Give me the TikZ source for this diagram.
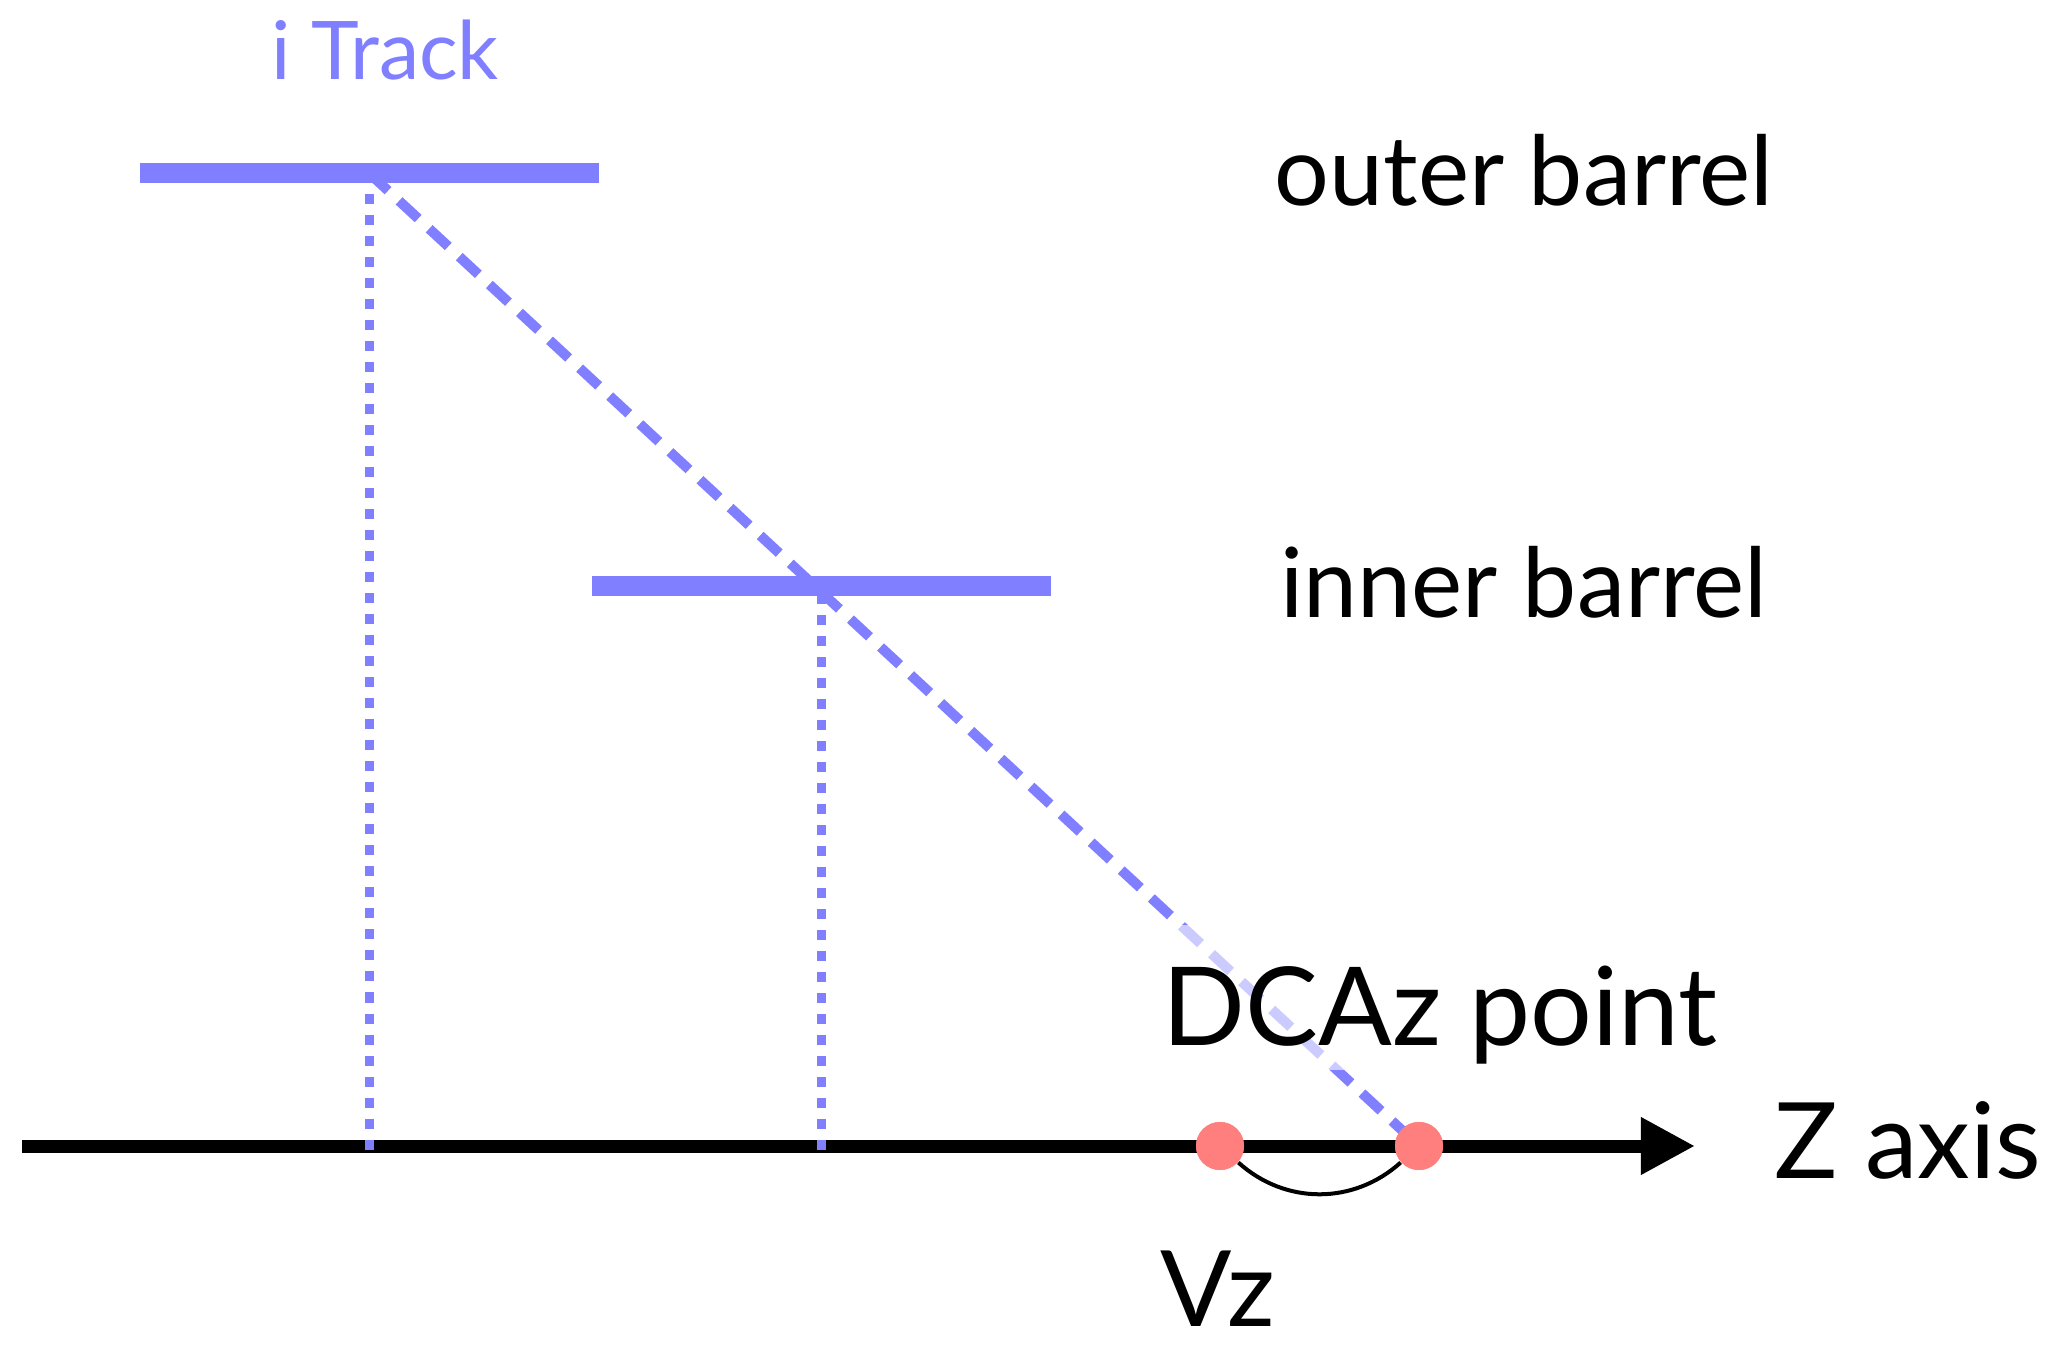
\documentclass[tikz,border=0pt]{standalone}
\usepackage{fontspec}
\setmainfont{Lato}
\usetikzlibrary{arrows.meta,positioning}
\definecolor{trackblue}{HTML}{7F7FFF}
\definecolor{dotred}{HTML}{FF7F7F}
\tikzset{
  barrel/.style  = {line width=0.2cm, trackblue},
  proj/.style    = {line width=0.09cm, trackblue, dash pattern=on 0.1cm off 0.11cm},
  track/.style   = {line width=0.1cm, trackblue, dash pattern=on 0.26cm off 0.15cm},
  zpoint/.style  = {circle, fill=dotred, inner sep=0pt, minimum size=0.48cm},
  lbl/.style     = {font=\fontsize{30}{36}\selectfont, anchor=base west, inner sep=0pt},
  barlbl/.style  = {lbl, font=\fontsize{27.5}{33}\selectfont},
}
\begin{document}
\begin{tikzpicture}[x=0.01cm, y=-0.01cm]
\useasboundingbox (0,0) rectangle (2060,1346);
% ---- barrel hits and axis ends ----
\coordinate (ob-l) at (140,173);
\coordinate (ob-r) at (599,173);
\coordinate (ob-hit) at (369,173);
\coordinate (ob-foot) at (369,1152);
\coordinate (ib-l) at (592,586);
\coordinate (ib-r) at (1051,586);
\coordinate (ib-hit) at (821,594);
\coordinate (ib-foot) at (821,1152);
\coordinate (z0) at (22,1146);
\coordinate (z1) at (1695,1146);
% ---- z axis ----
\draw[line width=0.13cm, -{Triangle[length=0.54cm, width=0.54cm]}] (z0) -- (z1);
\node[lbl] (zlbl) at (1774,1178) {Z axis};
% ---- projections onto the axis ----
\draw[proj] (ob-hit) -- (ob-foot);
\draw[proj] (ib-hit) -- (ib-foot);
% ---- track line ----
\node[zpoint] (vz) at (1220,1146) {};
\node[zpoint] (dca) at (1419,1146) {};
\draw[track] (ob-hit) -- (dca.center);
\node[lbl, font=\fontsize{31}{37}\selectfont, fill=white, fill opacity=0.6,
      text opacity=1, text height=34pt, text depth=7pt]
      (dcalbl) at (1162,1045) {DCAz point};
\node[zpoint] at (dca) {};
\node[zpoint] at (vz) {};
\draw[line width=0.04cm] (vz) to[bend right=42] (dca);
\node[lbl] (vzlbl) at (1160,1326) {Vz};
% ---- barrels ----
\draw[barrel] (ob-l) -- (ob-r);
\draw[barrel] (ib-l) -- (ib-r);
\node[barlbl] (oblbl) at (1274,206) {outer barrel};
\node[barlbl] (iblbl) at (1280,617) {inner barrel};
\node[lbl, anchor=base, trackblue, font=\fontsize{23}{28}\selectfont]
      (tracklbl) at (385,80) {i Track};
\end{tikzpicture}
\end{document}
